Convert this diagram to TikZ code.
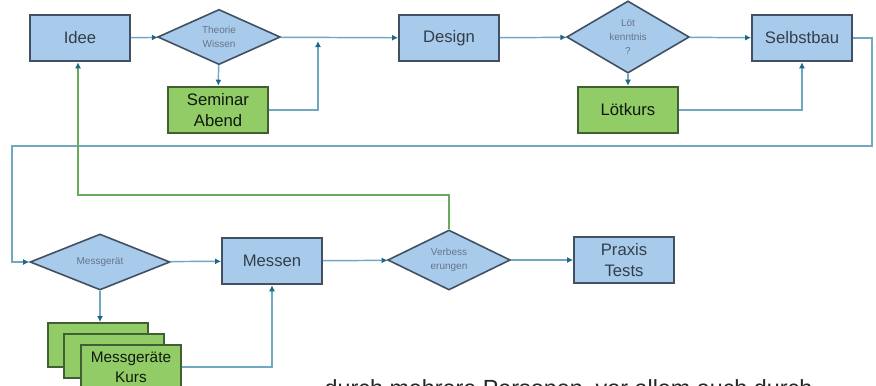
\documentclass[tikz,border=0pt]{standalone}
\usepackage{fontspec}
\setmainfont{Liberation Sans}
\usetikzlibrary{shapes.geometric,arrows.meta}

\definecolor{boxfill}{RGB}{168,203,236}
\definecolor{boxdraw}{RGB}{66,80,100}
\definecolor{grnfill}{RGB}{146,204,102}
\definecolor{grndraw}{RGB}{64,96,52}
\definecolor{linec}{RGB}{112,168,194}
\definecolor{tipc}{RGB}{28,104,134}
\definecolor{grnline}{RGB}{104,170,92}
\definecolor{txtc}{RGB}{52,62,74}
\definecolor{dtxt}{RGB}{104,116,136}

\begin{document}
\begin{tikzpicture}[x=0.75pt,y=0.75pt,yscale=-1,xscale=1,
  box/.style={draw=boxdraw,fill=boxfill,line width=1.4pt,minimum width=75pt,minimum height=35pt,
    inner sep=1pt,align=center,text=txtc,font=\fontsize{12.5}{16}\selectfont},
  gbox/.style={box,draw=grndraw,fill=grnfill,text=black!75!grndraw},
  dia/.style={diamond,draw=boxdraw,fill=boxfill,line width=1.2pt,minimum width=92pt,minimum height=41pt,
    inner sep=0pt,align=center,text=dtxt,font=\fontsize{7.5}{10.5}\selectfont},
  conn/.style={draw=linec,line width=1.1pt,-{Latex[length=4.5pt,width=4.5pt,color=tipc]}},
  gconn/.style={conn,draw=grnline}]
\useasboundingbox (0,0) rectangle (876,386);
\clip (0,0) rectangle (876,386);

%Shape: Rectangle
\node[box] (idee) at (80,38) {Idee};
%Shape: Diamond
\node[dia] (theorie) at (219,37) {Theorie\\Wissen};
%Shape: Rectangle
\node[gbox] (seminar) at (218,110) {Seminar\\Abend};
%Shape: Rectangle
\node[box] (design) at (449,38) {Design};
%Shape: Diamond
\node[dia] (loet) at (628,37) {Löt\\kenntnis\\?};
%Shape: Rectangle
\node[gbox] (loetkurs) at (628,110) {Lötkurs};
%Shape: Rectangle
\node[box] (selbst) at (802,38) {Selbstbau};

%Shape: Diamond
\node[dia,minimum width=105pt,minimum height=42pt] (messgeraet) at (100,262) {Messgerät};
%Shape: Rectangle
\node[box] (messen) at (272,261) {Messen};
%Shape: Diamond
\node[dia] (verbess) at (449,260) {Verbess\\erungen};
%Shape: Rectangle
\node[box] (praxis) at (624,260) {Praxis\\Tests};

%Shape: Multidocument
\foreach \i/\dx/\dy in {1/98/345,2/114/356}
  \node[gbox,minimum height=33pt] (kurs\i) at (\dx,\dy) {};
\node[gbox,font=\fontsize{11.5}{15}\selectfont,minimum height=33pt] (kurs3) at (131,367) {Messgeräte\\Kurs};

\coordinate (j1) at (318,41);
\coordinate (r1) at (872,146);
\coordinate (r2) at (12,146);
\coordinate (g1) at (78,195);

%Straight Lines
\draw[conn] (idee) -- (theorie);
\draw[conn] (theorie) -- (design);
\draw[conn] (theorie) -- (seminar);
\draw[conn] (seminar.east) -| (j1);
\draw[conn] (design) -- (loet);
\draw[conn] (loet) -- (selbst);
\draw[conn] (loet) -- (loetkurs);
\draw[conn] (loetkurs.east) -| (selbst.south);
\draw[conn] (selbst.east) -| (r1) -- (r2) |- (messgeraet.west);
\draw[conn] (messgeraet) -- (messen);
\draw[conn] (messen) -- (verbess);
\draw[conn] (verbess) -- (praxis);
\draw[conn] (messgeraet.south) -- (messgeraet.south |- kurs1.north);
\draw[conn] (kurs3.east) -| (messen.south);
\draw[gconn] (verbess.north) |- (g1) -- (idee.south -| g1);

% Text Node
\node[anchor=base west,font=\fontsize{17.5}{20}\selectfont,text=black!85] (note) at (320,396) {durch mehrere Personen, vor allem auch durch};

\end{tikzpicture}
\end{document}
